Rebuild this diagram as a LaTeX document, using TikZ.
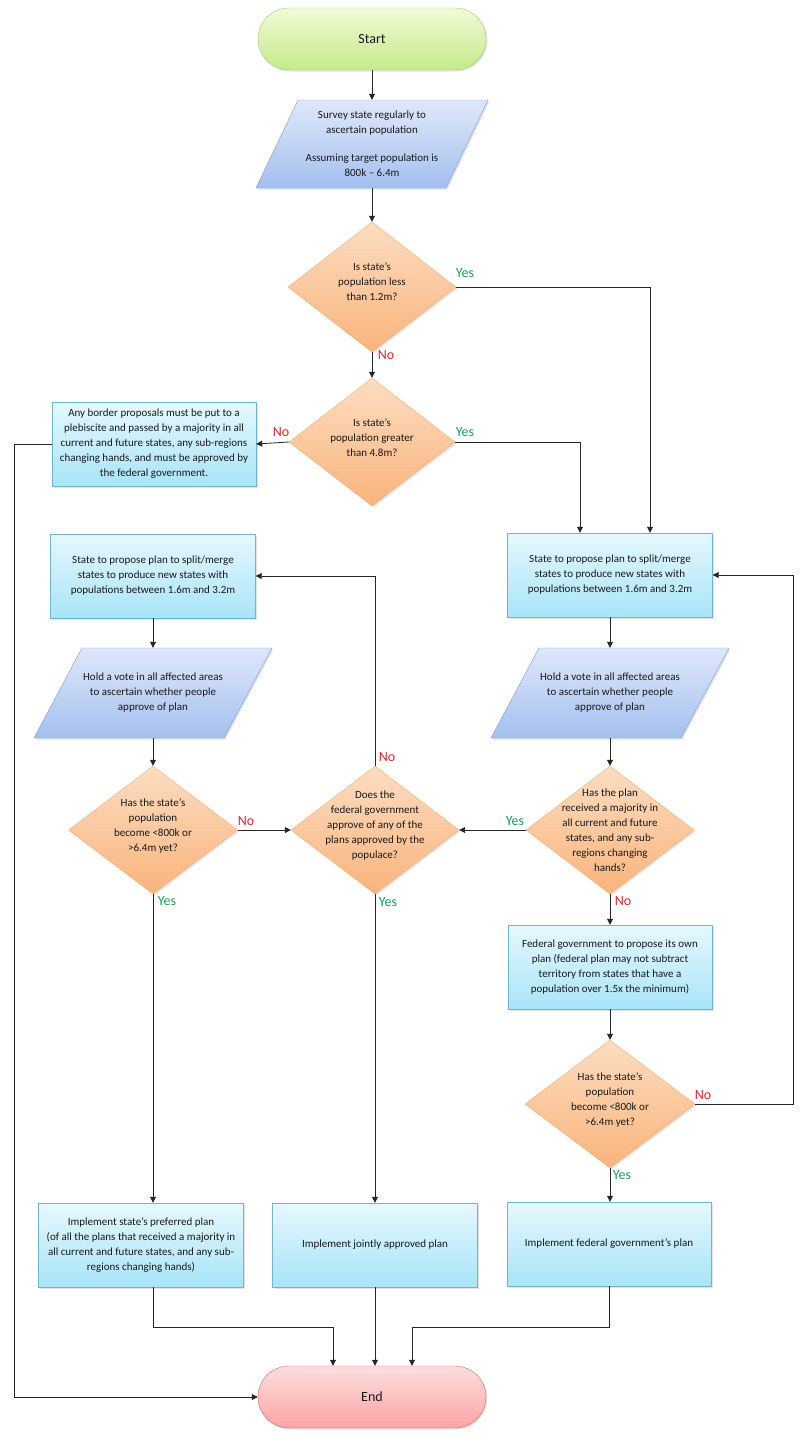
\documentclass[tikz,border=0pt]{standalone}
\usepackage{fontspec}
\setmainfont{Carlito}
\usetikzlibrary{shapes.geometric,arrows.meta,shadows}

\definecolor{procTop}{HTML}{E6F8FE}
\definecolor{procBot}{HTML}{A8E4F8}
\definecolor{procLine}{HTML}{6DB6D0}
\definecolor{decTop}{HTML}{FDDDC2}
\definecolor{decBot}{HTML}{F9B47C}
\definecolor{decLine}{HTML}{F2AE72}
\definecolor{ioTop}{HTML}{DFE8FA}
\definecolor{ioBot}{HTML}{A4BFEE}
\definecolor{ioLine}{HTML}{7A9DD8}
\definecolor{startTop}{HTML}{F0FBD8}
\definecolor{startBot}{HTML}{C6EA88}
\definecolor{startLine}{HTML}{A3C86A}
\definecolor{endTop}{HTML}{FDDEDE}
\definecolor{endBot}{HTML}{FBA4A4}
\definecolor{endLine}{HTML}{C86A68}
\definecolor{yesGreen}{HTML}{1A9E55}
\definecolor{noRed}{HTML}{E3222B}

\begin{document}
\begin{tikzpicture}[x=1pt, y=-1pt,
    every node/.style={font=\fontsize{11}{15}\selectfont, text=black!90},
    softshadow/.style={drop shadow={shadow xshift=1.5pt, shadow yshift=-1.5pt, opacity=0.22}},
    process/.style={draw=procLine, top color=procTop, bottom color=procBot, softshadow,
        minimum width=205pt, minimum height=84pt, align=center, inner sep=2pt},
    decision/.style={shape=diamond, draw=decLine, top color=decTop, bottom color=decBot, softshadow,
        minimum width=168pt, minimum height=128pt, inner sep=0pt},
    dtext/.style={align=center, inner sep=0pt},
    iobox/.style={draw=ioLine, top color=ioTop, bottom color=ioBot, softshadow},
    iotext/.style={align=center, minimum width=190pt, minimum height=90pt, inner sep=0pt},
    terminal/.style={rounded corners=31pt, minimum width=228pt, minimum height=62pt,
        softshadow, font=\fontsize{14}{16}\selectfont},
    arrow/.style={-{Triangle[length=6pt,width=6pt]}, line width=0.8pt, black!85},
    line/.style={line width=0.8pt, black!85},
    yeslbl/.style={text=yesGreen, font=\fontsize{14}{16}\selectfont},
    nolbl/.style={text=noRed, font=\fontsize{14}{16}\selectfont}
]
    \useasboundingbox (0,0) rectangle (809,1444);

    % Start
    \node[terminal, draw=startLine, top color=startTop, bottom color=startBot] (start) at (372,39) {Start};

    % Survey
    \draw[iobox] (298,100) -- (488,100) -- (446,188) -- (256,188) -- cycle;
    \node[iotext, minimum height=88pt] (survey) at (372,144) {Survey state regularly to\\ascertain population\\[13pt]Assuming target population is\\800k – 6.4m};

    % First checks
    \node[decision, minimum height=130pt] (d1) at (372,287) {};
    \node[dtext] (d1t) at (372,282) {Is state’s\\population less\\than 1.2m?};

    \node[decision, minimum width=166pt] (d2) at (372,442) {};
    \node[dtext] (d2t) at (372,438) {Is state’s\\population greater\\than 4.8m?};

    \node[process, minimum width=204pt] (border) at (154,444) {Any border proposals must be put to a\\plebiscite and passed by a majority in all\\current and future states, any sub-regions\\changing hands, and must be approved by\\the federal government.};

    % Left branch
    \node[process] (l1) at (153,576) {State to propose plan to split/merge\\states to produce new states with\\populations between 1.6m and 3.2m};
    \draw[iobox] (82,648) -- (272,648) -- (224,738) -- (34,738) -- cycle;
    \node[iotext] (p1) at (153,693) {Hold a vote in all affected areas\\to ascertain whether people\\approve of plan};
    \node[decision, minimum width=169pt] (d3) at (153,830) {};
    \node[dtext] (d3t) at (153,826) {Has the state’s\\population\\become <800k or\\>6.4m yet?};

    % Middle branch
    \node[decision] (d4) at (375,830) {};
    \node[dtext] (d4t) at (375,826) {Does the\\federal government\\approve of any of the\\plans approved by the\\populace?};

    % Right branch
    \node[process] (r1) at (610,575) {State to propose plan to split/merge\\states to produce new states with\\populations between 1.6m and 3.2m};
    \draw[iobox] (539,648) -- (729,648) -- (681,738) -- (491,738) -- cycle;
    \node[iotext] (p2) at (610,693) {Hold a vote in all affected areas\\to ascertain whether people\\approve of plan};
    \node[decision] (d5) at (610,830) {};
    \node[dtext] (d5t) at (610,830) {Has the plan\\received a majority in\\all current and future\\states, and any sub-\\regions changing\\hands?};
    \node[process, minimum width=204pt] (fed) at (610,967) {Federal government to propose its own\\plan (federal plan may not subtract\\territory from states that have a\\population over 1.5x the minimum)};
    \node[decision, minimum width=170pt] (d6) at (610,1104) {};
    \node[dtext] (d6t) at (610,1100) {Has the state’s\\population\\become <800k or\\>6.4m yet?};

    % Outcomes
    \node[process] (lfin) at (141,1245) {Implement state’s preferred plan\\(of all the plans that received a majority in\\all current and future states, and any sub-\\regions changing hands)};
    \node[process] (mfin) at (375,1245) {Implement jointly approved plan};
    \node[process, minimum width=204pt] (rfin) at (609,1244) {Implement federal government’s plan};

    % End
    \node[terminal, draw=endLine, top color=endTop, bottom color=endBot] (end) at (372,1397) {End};

    % Connections
    \draw[arrow] (start) -- (survey);
    \draw[arrow] (survey) -- (d1);
    \draw[arrow] (d1) -- (d2);
    \draw[arrow] (d1.east) -| ([xshift=40pt]r1.north);
    \draw[arrow] (d2.east) -| ([xshift=-30pt]r1.north);
    \draw[arrow] (d2.west) -- (border.east);
    \draw[arrow] (border.west) -- ++(-37,0) |- (end.west);

    \draw[arrow] (l1) -- (p1);
    \draw[arrow] (p1) -- (d3);
    \draw[arrow] (d3) -- (d4);
    \draw[arrow] (d4.north) |- (l1.east);
    \draw[arrow] (d3.south) -- (d3.south |- lfin.north);
    \draw[arrow] (d4.south) -- (d4.south |- mfin.north);

    \draw[arrow] (r1) -- (p2);
    \draw[arrow] (p2) -- (d5);
    \draw[arrow] (d5) -- (d4);
    \draw[arrow] (d5) -- (fed);
    \draw[arrow] (fed) -- (d6);
    \draw[arrow] (d6.east) -- ++(98,0) |- (r1.east);
    \draw[arrow] (d6.south) -- (d6.south |- rfin.north);

    \draw[arrow] (d3.south |- lfin.south) -- ++(0,40) -| ([xshift=-39pt]end.north);
    \draw[arrow] (mfin.south) -- (mfin.south |- end.north);
    \draw[arrow] (rfin.south) -- ++(0,41) -| ([xshift=40pt]end.north);

    % Yes / No labels
    \node[yeslbl] (y1) at (465,273) {Yes};
    \node[nolbl] (n1) at (386,355) {No};
    \node[nolbl] (n2) at (281,432) {No};
    \node[yeslbl] (y2) at (465,432) {Yes};
    \node[nolbl] (n3) at (246,821) {No};
    \node[yeslbl] (y3) at (167,901) {Yes};
    \node[nolbl] (n4) at (387,757) {No};
    \node[yeslbl] (y4) at (388,902) {Yes};
    \node[yeslbl] (y5) at (515,821) {Yes};
    \node[nolbl] (n5) at (623,901) {No};
    \node[nolbl] (n6) at (703,1095) {No};
    \node[yeslbl] (y6) at (622,1175) {Yes};
\end{tikzpicture}
\end{document}
